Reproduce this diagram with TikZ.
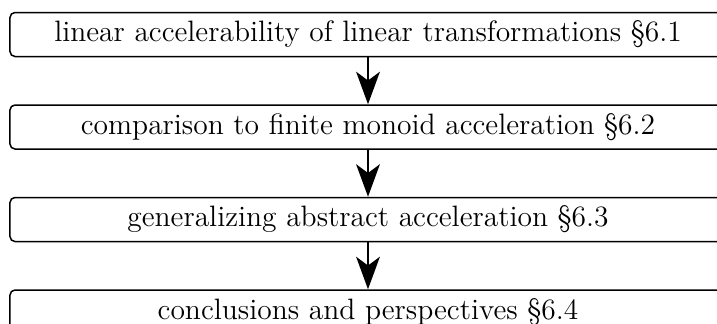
\documentclass[tikz,border=0pt]{standalone}
\usepackage{tikz}
\usetikzlibrary{arrows.meta,positioning}

\begin{document}
\begin{tikzpicture}[x=0.4pt,y=0.4pt,
  sect/.style={draw,semithick,rounded corners=2pt,minimum width=286.4pt,minimum height=17.6pt,inner sep=0pt,
    font=\fontsize{11.8pt}{14pt}\selectfont},
  flow/.style={-{Stealth[length=13pt,width=9.5pt,inset=3.5pt]},thick},
  node distance=18.8pt]
  \useasboundingbox (0,0) rectangle (717,323);
  % Section boxes
  \node[sect] (lin) at (368,288.5) {linear accelerability of linear transformations \S6.1};
  \node[sect,below=of lin] (mon) {comparison to finite monoid acceleration \S6.2};
  \node[sect,below=of mon] (gen) {generalizing abstract acceleration \S6.3};
  \node[sect,below=of gen] (con) {conclusions and perspectives \S6.4};

  % Arrows
  \draw[flow] (lin) -- (mon);
  \draw[flow] (mon) -- (gen);
  \draw[flow] (gen) -- (con);
\end{tikzpicture}
\end{document}
